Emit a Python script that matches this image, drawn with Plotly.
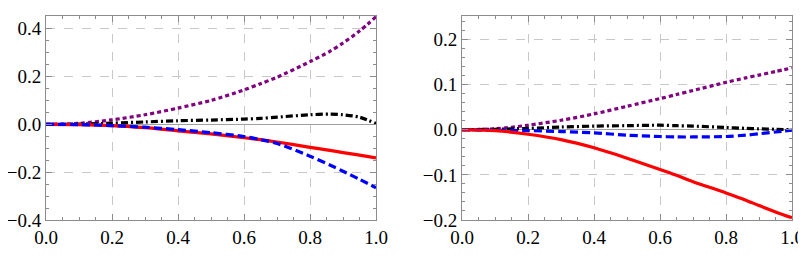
import plotly.graph_objects as go

# ---- data ----
x_vals = [0.0, 0.1, 0.2, 0.3, 0.4, 0.5, 0.6, 0.65, 0.7, 0.8, 0.86, 0.9, 0.95, 1.0]

left_purple = [0.0, 0.004, 0.019, 0.04, 0.068, 0.10, 0.144, 0.170, 0.197, 0.262, 0.305, 0.34, 0.39, 0.45]
left_black = [0.0, 0.001, 0.005, 0.010, 0.015, 0.018, 0.022, 0.025, 0.030, 0.040, 0.043, 0.040, 0.030, 0.003]
left_red = [0.0, -0.001, -0.005, -0.014, -0.027, -0.040, -0.056, -0.064, -0.074, -0.096, -0.109, -0.118, -0.129, -0.14]
left_blue = [0.0, -0.001, -0.005, -0.012, -0.022, -0.035, -0.051, -0.064, -0.080, -0.133, -0.170, -0.196, -0.230, -0.265]

right_purple = [0.0, 0.002, 0.010, 0.021, 0.035, 0.052, 0.069, 0.078, 0.087, 0.105, 0.115, 0.121, 0.129, 0.137]
right_black = [0.0, 0.001, 0.003, 0.006, 0.008, 0.009, 0.010, 0.009, 0.008, 0.005, 0.003, 0.002, 0.001, 0.0]
right_blue = [0.0, -0.001, -0.002, -0.004, -0.007, -0.012, -0.015, -0.016, -0.016, -0.015, -0.012, -0.009, -0.005, -0.001]
right_red = [0.0, -0.002, -0.010, -0.022, -0.040, -0.063, -0.088, -0.101, -0.115, -0.140, -0.156, -0.168, -0.182, -0.195]

x_ticks = [0.0, 0.2, 0.4, 0.6, 0.8, 1.0]
left_y_ticks = [-0.4, -0.2, 0.0, 0.2, 0.4]
right_y_ticks = [-0.2, -0.1, 0.0, 0.1, 0.2]

series_style = {
    "purple": dict(color="#800080", width=3.2, dash="4px,3px"),
    "black": dict(color="#000000", width=3.2, dash="7px,3px,2px,3px"),
    "blue": dict(color="#0000FF", width=3.2, dash="8px,4px"),
    "red": dict(color="#FF0000", width=3.2, dash="solid"),
}

fig = go.Figure()

def add(xs, ys, key, xa, ya):
    fig.add_trace(go.Scatter(x=xs, y=ys, mode="lines", line=dict(shape="spline", smoothing=0.8, **series_style[key]),
                             xaxis=xa, yaxis=ya, showlegend=False, hoverinfo="skip"))

add(x_vals, left_purple, "purple", "x", "y")
add(x_vals, left_black, "black", "x", "y")
add(x_vals, left_red, "red", "x", "y")
add(x_vals, left_blue, "blue", "x", "y")

add(x_vals, right_purple, "purple", "x2", "y2")
add(x_vals, right_black, "black", "x2", "y2")
add(x_vals, right_blue, "blue", "x2", "y2")
add(x_vals, right_red, "red", "x2", "y2")

font = dict(family="Liberation Serif", size=19, color="black")
frame = "#8c8c8c"
grid = "#c8c8c8"

W, H = 798, 256  # page body margin of 8px shifts the figure inside the 806x264 window

def xaxis(domain, anchor):
    return dict(domain=domain, anchor=anchor, range=[0, 1], tickvals=x_ticks,
                ticktext=[f"{v:.1f}" for v in x_ticks], tickfont=font, automargin=False,
                ticklabeloverflow="allow",
                showline=True, linecolor=frame, linewidth=1, mirror="ticks",
                ticks="inside", ticklen=6, tickcolor=frame,
                showgrid=True, gridcolor=grid, griddash="dash", gridwidth=1,
                zeroline=False,
                minor=dict(dtick=0.05, tick0=0, ticks="inside", ticklen=3, tickcolor=frame, showgrid=False))

def yaxis(domain, anchor, rng, ticks, minor_dtick):
    return dict(domain=domain, anchor=anchor, range=rng, tickvals=ticks,
                ticktext=[("\u2212" if v < 0 else "") + f"{abs(v):.1f}" for v in ticks], tickfont=font,
                automargin=False, ticklabeloverflow="allow",
                showline=True, linecolor=frame, linewidth=1, mirror="ticks",
                ticks="inside", ticklen=6, tickcolor=frame,
                showgrid=True, gridcolor=grid, griddash="dash", gridwidth=1,
                zeroline=True, zerolinecolor="#a0a0a0", zerolinewidth=1,
                minor=dict(dtick=minor_dtick, tick0=0, ticks="inside", ticklen=3, tickcolor=frame, showgrid=False))

fig.update_layout(
    width=W, height=H,
    margin=dict(l=0, r=0, t=8, b=44, autoexpand=False),
    paper_bgcolor="white", plot_bgcolor="white",
    font=font,
    xaxis=xaxis([38 / W, 368 / W], "y"),
    yaxis=yaxis([0, 1], "x", [-0.4, 0.453], left_y_ticks, 0.05),
    xaxis2=xaxis([454 / W, 784 / W], "y2"),
    yaxis2=yaxis([0, 1], "x2", [-0.2, 0.252], right_y_ticks, 0.02),
)

fig.write_html("out.html")
